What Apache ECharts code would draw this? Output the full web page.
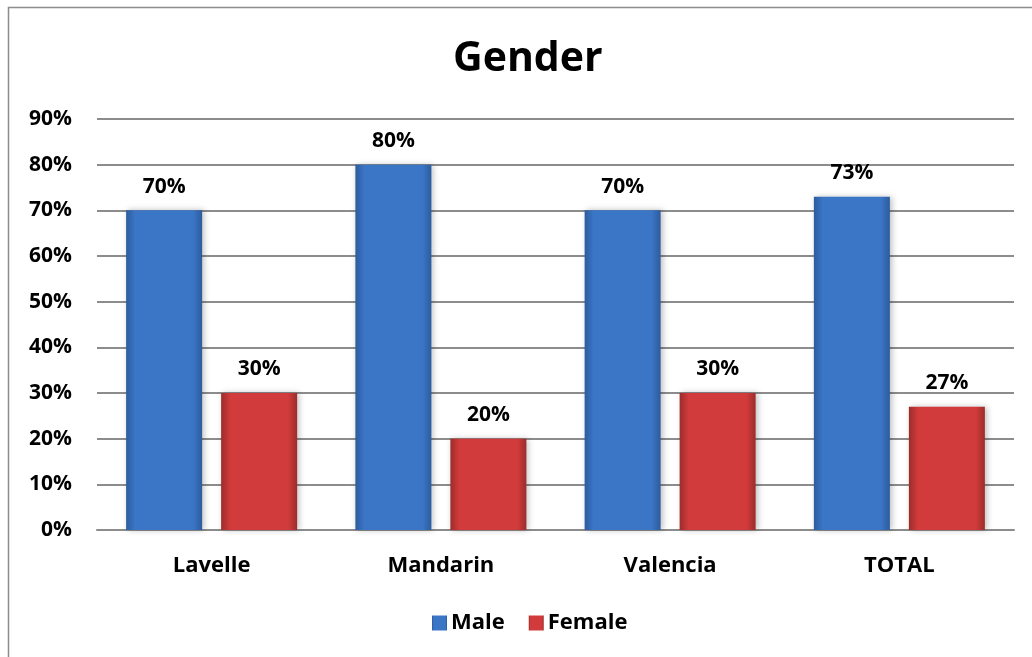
<!DOCTYPE html>
<html>
<head>
<meta charset="utf-8">
<script src="https://cdn.jsdelivr.net/npm/echarts@6/dist/echarts.min.js"></script>
<style>
  html, body { margin: 0; padding: 0; background: #fff; }
  #chart { width: 1032px; height: 657px; }
</style>
</head>
<body>
<div id="chart"></div>
<script>
// Share of respondents by gender at each site
const categories = ['Lavelle', 'Mandarin', 'Valencia', 'TOTAL'];
const maleValues = [70, 80, 70, 73];
const femaleValues = [30, 20, 30, 27];
const yTicks = [0, 10, 20, 30, 40, 50, 60, 70, 80, 90];

const FONT = '"Open Sans", Lato, sans-serif';

function bevel(edge, mid) {
  return {
    type: 'linear', x: 0, y: 0, x2: 1, y2: 0,
    colorStops: [
      { offset: 0, color: edge },
      { offset: 0.12, color: mid },
      { offset: 0.88, color: mid },
      { offset: 1, color: edge }
    ]
  };
}

const chart = echarts.init(document.getElementById('chart'), null, { renderer: 'canvas' });

const labelStyle = {
  show: true,
  position: 'top',
  distance: 13,
  formatter: p => p.value + '%',
  fontFamily: FONT,
  fontWeight: 'bold',
  fontSize: 21,
  color: '#000'
};

chart.setOption({
  backgroundColor: '#fff',
  animation: false,
  graphic: [{
    type: 'rect',
    shape: { x: 8.5, y: 7.5, width: 1040, height: 700 },
    style: { fill: 'none', stroke: '#8c8c8c', lineWidth: 1.5 },
    silent: true,
    z: -1
  }],
  title: {
    text: 'Gender',
    left: 448,
    top: 34,
    textStyle: { fontFamily: FONT, fontWeight: 'bold', fontSize: 41, color: '#000' }
  },
  legend: {
    bottom: 18,
    left: 427,
    itemWidth: 15,
    itemHeight: 15,
    itemGap: 24,
    icon: 'rect',
    textStyle: { fontFamily: FONT, fontWeight: 'bold', fontSize: 22, color: '#000', padding: [0, 0, 0, -1] },
    data: ['Male', 'Female']
  },
  grid: { left: 97, right: 18, top: 119, bottom: 127, containLabel: false },
  xAxis: {
    type: 'category',
    data: categories,
    axisTick: { show: false },
    axisLine: { lineStyle: { color: '#8c8c8c', width: 2 } },
    axisLabel: { fontFamily: FONT, fontWeight: 'bold', fontSize: 22, color: '#000', margin: 25 }
  },
  yAxis: {
    type: 'value',
    min: yTicks[0],
    max: yTicks[yTicks.length - 1],
    interval: 10,
    axisLine: { show: false },
    axisTick: { show: false },
    splitLine: { lineStyle: { color: '#8c8c8c', width: 2 } },
    axisLabel: {
      fontFamily: FONT, fontWeight: 'bold', fontSize: 21, color: '#000', margin: 25,
      formatter: v => v + '%'
    }
  },
  series: [
    {
      name: 'Male',
      type: 'bar',
      data: maleValues,
      barWidth: 76,
      barGap: '25%',
      itemStyle: {
        color: bevel('#2c5c9e', '#3b76c6'),
        shadowColor: 'rgba(0,0,0,0.25)',
        shadowBlur: 6,
        shadowOffsetX: 2
      },
      label: labelStyle
    },
    {
      name: 'Female',
      type: 'bar',
      data: femaleValues,
      barWidth: 76,
      itemStyle: {
        color: bevel('#9c2c2c', '#d23b3b'),
        shadowColor: 'rgba(0,0,0,0.25)',
        shadowBlur: 6,
        shadowOffsetX: 2
      },
      label: labelStyle
    }
  ]
});
</script>
</body>
</html>
